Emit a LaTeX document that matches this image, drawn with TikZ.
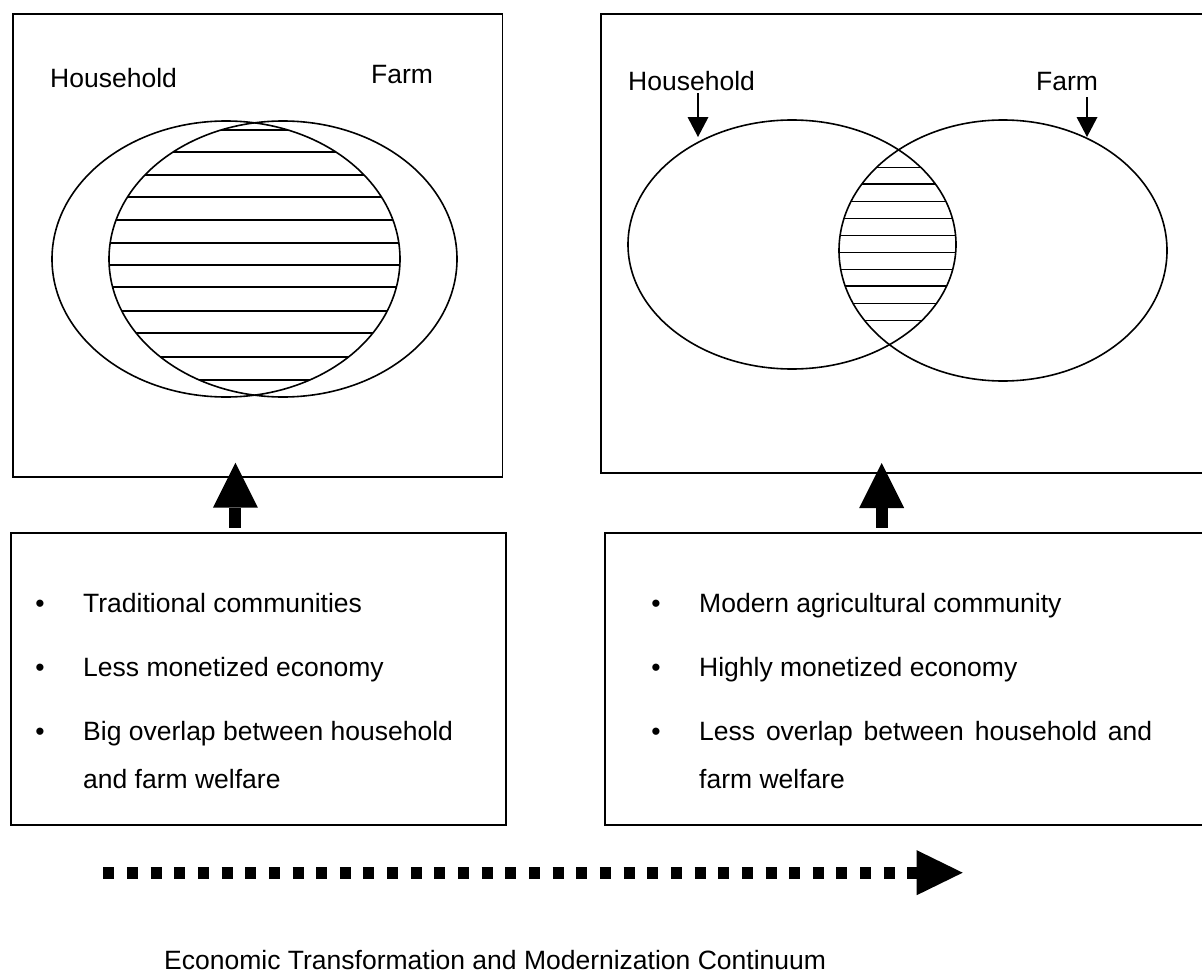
\documentclass[tikz,border=0pt]{standalone}
\usepackage{fontspec}
\setmainfont{Liberation Sans}
\usetikzlibrary{arrows.meta}
\begin{document}
\begin{tikzpicture}[x=1pt,y=-1pt,
  box/.style={draw, line width=1.8pt, inner sep=0pt, outer sep=0pt, anchor=north west},
  ell/.style={line width=1.6pt},
  hatch/.style={line width=1.6pt},
  txt/.style={inner sep=0pt, anchor=base west, font=\fontsize{26.5}{32}\selectfont},
  bul/.style={inner sep=0pt, anchor=base, font=\fontsize{26.5}{32}\selectfont},
  fatarrow/.style={line width=12pt, -{Triangle[width=45pt,length=45pt,line width=0pt]}},
  dotarrow/.style={line width=12pt, dash pattern=on 11pt off 12.65pt, -{Triangle[width=45pt,length=46pt,line width=0pt]}},
  smallarrow/.style={line width=1.6pt, -{Triangle[width=21pt,length=20pt,line width=0pt]}},
]
\useasboundingbox (0,0) rectangle (1202,974);
\begin{scope}
\clip (0,0) rectangle (1202,974);
% boxes
\node[box, minimum width=489.5pt, minimum height=462.7pt] (tl) at (13,14) {};
\node[box, minimum width=609.3pt, minimum height=459.3pt] (tr) at (600.7,14) {};
\node[box, minimum width=495.3pt, minimum height=292.3pt] (bl) at (11,532.7) {};
\node[box, minimum width=605.3pt, minimum height=292pt] (br) at (604.7,532.7) {};

% left Venn
\begin{scope}
  \clip (226,259) ellipse [x radius=174pt, y radius=138pt];
  \clip (283,259) ellipse [x radius=174pt, y radius=138pt];
  \foreach \yy in {130,152,175,197,220,243,265,287,311,333,357,380}
    \draw[hatch] (100,\yy) -- (460,\yy);
\end{scope}
\draw[ell] (226,259) ellipse [x radius=174pt, y radius=138pt];
\draw[ell] (283,259) ellipse [x radius=174pt, y radius=138pt];
\node[txt] (hl) at (50,88) {Household};
\node[txt] (fl) at (371,83.3) {Farm};

% right Venn
\begin{scope}
  \clip (792,244.5) ellipse [x radius=164pt, y radius=124.5pt];
  \clip (1003,250.5) ellipse [x radius=164pt, y radius=130.5pt];
  \foreach \yy in {167.3,184,201.3,218.3,235.3,252.3,269.3,286,303.3,320.3}
    \draw[hatch] (820,\yy) -- (980,\yy);
\end{scope}
\draw[ell] (792,244.5) ellipse [x radius=164pt, y radius=124.5pt];
\draw[ell] (1003,250.5) ellipse [x radius=164pt, y radius=130.5pt];
\node[txt] (hr) at (628,90.7) {Household};
\node[txt] (fr) at (1036,90.7) {Farm};
\coordinate (hrA) at (698,93);
\coordinate (hrB) at (698,137);
\coordinate (frA) at (1087,97);
\coordinate (frB) at (1087,137);
\draw[smallarrow] (hrA) -- (hrB);
\draw[smallarrow] (frA) -- (frB);

% fat up arrows
\coordinate (la0) at (235.4,527.7);
\coordinate (la1) at (235.4,462.7);
\coordinate (ra0) at (881.7,527.7);
\coordinate (ra1) at (881.7,463);
\draw[fatarrow] (la0) -- (la1);
\draw[fatarrow] (ra0) -- (ra1);

% left bullets
\node[bul] (lb1) at (40,612) {•};
\node[bul] (lb2) at (40,676.5) {•};
\node[bul] (lb3) at (40,740.5) {•};
\node[txt] (lt1) at (83,612) {Traditional communities};
\node[txt] (lt2) at (83,676.5) {Less monetized economy};
\node[txt] (lt3) at (83,740.5) {Big overlap between household};
\node[txt] (lt4) at (83,788.5) {and farm welfare};

% right bullets
\node[bul] (rb1) at (656,612) {•};
\node[bul] (rb2) at (656,676.5) {•};
\node[bul] (rb3) at (656,740.5) {•};
\node[txt] (rt1) at (699,612) {Modern agricultural community};
\node[txt] (rt2) at (699,676.5) {Highly monetized economy};
\node[txt] (rt3) at (699,740.5) {\makebox[453pt][s]{Less overlap between household and}};
\node[txt] (rt4) at (699,788.5) {farm welfare};

% continuum arrow
\coordinate (d0) at (103.3,872.7);
\coordinate (d1) at (962.7,872.7);
\draw[dotarrow] (d0) -- (d1);
\node[txt] (title) at (164,969) {Economic Transformation and Modernization Continuum};
\end{scope}
\end{tikzpicture}
\end{document}
